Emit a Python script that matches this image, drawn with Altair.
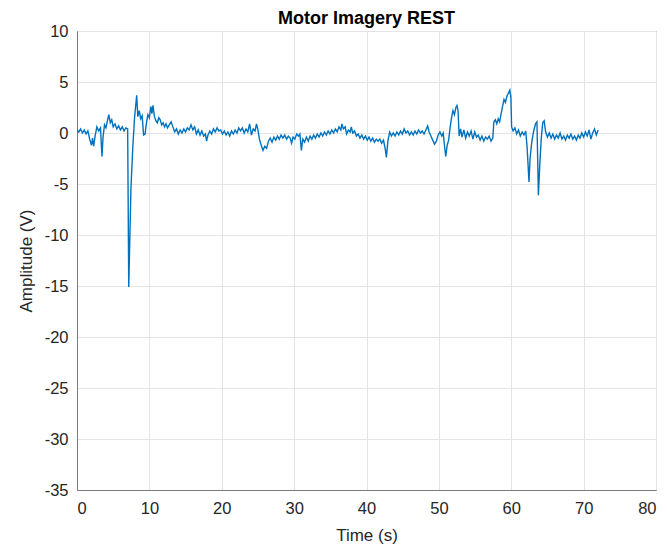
import altair as alt
import pandas as pd

# Recorded EEG channel during the "rest" motor-imagery trial (time in s, amplitude in V)
time_s = [
    0.0, 0.25, 0.5, 0.75, 1.0, 1.25, 1.5, 1.75, 2.0, 2.15, 2.3, 2.5, 2.75, 3.0, 3.25, 3.45,
    3.6, 3.8, 4.0, 4.2, 4.4, 4.6, 4.8, 5.0, 5.25, 5.5, 5.75, 6.0, 6.25, 6.5, 6.75, 7.0,
    7.15, 7.45, 7.7, 7.95, 8.25, 8.4, 8.6, 8.8, 9.0, 9.2, 9.4, 9.6, 9.8, 10.0, 10.2, 10.35,
    10.5, 10.7, 10.9, 11.1, 11.3, 11.5, 11.7, 11.9, 12.1, 12.3, 12.5, 12.75, 13.0, 13.25,
    13.5, 13.75, 14.0, 14.25, 14.5, 14.75, 15.0, 15.25, 15.5, 15.75, 16.0, 16.25, 16.5,
    16.75, 17.0, 17.25, 17.5, 17.75, 17.9, 18.1, 18.35, 18.6, 18.85, 19.1, 19.35, 19.6,
    19.85, 20.1, 20.35, 20.6, 20.85, 21.1, 21.35, 21.6, 21.85, 22.1, 22.35, 22.6, 22.85,
    23.1, 23.35, 23.6, 23.85, 24.1, 24.35, 24.6, 24.8, 25.0, 25.2, 25.45, 25.7, 25.95,
    26.2, 26.45, 26.7, 26.95, 27.2, 27.45, 27.7, 27.95, 28.2, 28.45, 28.7, 28.95, 29.2,
    29.45, 29.65, 29.85, 30.1, 30.35, 30.6, 30.8, 31.0, 31.2, 31.45, 31.7, 31.95, 32.2,
    32.45, 32.7, 32.95, 33.2, 33.45, 33.7, 33.95, 34.2, 34.45, 34.7, 34.95, 35.2, 35.45,
    35.7, 35.95, 36.2, 36.45, 36.6, 36.8, 37.05, 37.25, 37.5, 37.75, 37.9, 38.1, 38.35,
    38.6, 38.85, 39.1, 39.35, 39.6, 39.85, 40.1, 40.35, 40.6, 40.85, 41.1, 41.35, 41.6,
    41.85, 42.1, 42.35, 42.6, 42.75, 42.95, 43.2, 43.45, 43.7, 43.95, 44.2, 44.45, 44.7,
    44.95, 45.2, 45.45, 45.7, 45.95, 46.2, 46.45, 46.7, 46.95, 47.2, 47.45, 47.7, 47.95,
    48.2, 48.45, 48.65, 48.9, 49.15, 49.4, 49.65, 49.9, 50.15, 50.4, 50.6, 50.8, 50.95,
    51.15, 51.35, 51.55, 51.75, 51.95, 52.15, 52.35, 52.5, 52.65, 52.8, 53.0, 53.2, 53.45,
    53.7, 53.95, 54.2, 54.45, 54.7, 54.95, 55.2, 55.45, 55.7, 55.95, 56.2, 56.45, 56.7,
    56.95, 57.2, 57.45, 57.6, 57.8, 58.0, 58.2, 58.4, 58.6, 58.8, 59.0, 59.2, 59.4, 59.6,
    59.8, 59.95, 60.05, 60.25, 60.5, 60.75, 61.0, 61.25, 61.5, 61.75, 62.0, 62.2, 62.45,
    62.6, 62.85, 63.1, 63.35, 63.55, 63.75, 63.95, 64.15, 64.35, 64.55, 64.75, 65.0, 65.25,
    65.5, 65.75, 66.0, 66.25, 66.5, 66.75, 67.0, 67.25, 67.5, 67.75, 68.0, 68.25, 68.5,
    68.75, 69.0, 69.25, 69.5, 69.75, 70.0, 70.25, 70.5, 70.75, 71.0, 71.25, 71.5, 71.75,
    72.0,
]

amplitude_v = [
    0.3, 0.1, 0.4, 0.0, 0.3, -0.1, 0.2, -0.6, -1.2, -0.5, -1.3, -0.3, 0.6, 0.2, 0.5, -2.3,
    -0.4, 0.8, 0.5, 1.2, 1.8, 1.0, 1.3, 0.6, 0.9, 0.4, 0.7, 0.3, 0.6, 0.2, 0.5, 0.4,
    -15.1, -5.5, -1.5, 1.5, 3.7, 1.6, 2.2, 1.4, 1.7, -0.2, -0.1, 1.0, 1.8, 1.5, 2.6, 1.9,
    2.7, 1.6, 1.2, 1.0, 1.5, 1.3, 0.8, 1.0, 0.6, 0.9, 0.5, 0.8, 1.1, 0.6,
    0.1, 0.4, -0.1, 0.3, 0.0, 0.4, 0.1, 0.5, 0.3, 0.8, 0.3, 0.6, -0.1,
    0.3, -0.2, 0.2, -0.3, -0.1, -0.8, -0.2, 0.2, -0.1, 0.4, 0.1, 0.5, 0.2,
    0.3, -0.1, 0.2, -0.2, 0.1, -0.3, 0.2, -0.1, 0.3, 0.0, 0.5, 0.2, 0.5,
    0.0, 0.4, 0.1, 0.9, -0.2, 0.4, 0.2, 0.9, 0.3, -0.6, -1.2, -1.7, -1.3,
    -1.5, -0.8, -0.5, -0.9, -0.4, -0.7, -0.3, -0.6, -0.2, -0.5, -0.2, -0.6, -0.3,
    -0.5, -1.0, -0.4, -0.6, -0.1, -0.3, -0.1, -1.7, -0.6, -0.9, -0.4, -0.8, -0.3,
    -0.6, -0.2, -0.5, -0.1, -0.4, 0.0, -0.3, 0.1, -0.2, 0.2, -0.1, 0.3, 0.0,
    0.4, 0.1, 0.6, 0.3, 0.9, 0.4, 0.6, -0.1, 0.3, 0.1, 0.6, 0.0, 0.2,
    -0.3, -0.1, -0.5, -0.2, -0.6, -0.3, -0.7, -0.4, -0.8, -0.5, -0.9, -0.6, -0.8,
    -0.6, -1.0, -0.7, -1.6, -2.4, -0.8, 0.1, -0.3, 0.0, -0.3, 0.1, -0.2, 0.2,
    -0.1, 0.4, 0.0, 0.2, -0.2, 0.1, -0.2, 0.2, -0.1, 0.3, 0.0, 0.2, -0.1,
    0.3, 0.7, 0.1, -0.3, -0.7, -1.1, -0.8, -0.2, 0.1, -0.3, 0.0, -1.4, -2.3,
    -1.2, -0.7, 0.5, 1.5, 2.2, 1.8, 2.5, 2.7, 2.2, -0.3, 0.4, -0.4, 0.3,
    -0.5, 0.1, -0.3, 0.2, -0.6, 0.1, -0.4, -0.2, -0.7, -0.3, -0.8, -0.4, -0.6,
    -0.3, -0.8, -0.5, 1.1, 1.3, 0.9, 1.4, 1.1, 1.9, 2.6, 3.3, 3.0, 3.6, 3.9,
    4.2, 3.5, 0.6, 0.2, 0.5, -0.1, 0.3, -0.3, 0.1, -0.2, 0.2, -1.5, -4.8,
    -2.5, -0.8, 0.2, 0.9, 1.1, -6.1, -3.0, -0.5, 1.0, 1.2, 0.1, -0.4, 0.0,
    -0.5, -0.1, -0.6, -0.2, -0.5, 0.0, -0.6, -0.3, -0.7, -0.2, -0.5, -0.1, -0.6,
    -0.3, -0.7, -0.2, -0.5, 0.0, -0.4, 0.1, -0.3, 0.3, -0.6, 0.0, 0.4, -0.2,
    0.3,
]

x_ticks = [0, 10, 20, 30, 40, 50, 60, 70, 80]
y_ticks = [10, 5, 0, -5, -10, -15, -20, -25, -30, -35]

signal = pd.DataFrame({"t": time_s, "v": amplitude_v})

FONT = "Liberation Sans"
TEXT = "#262626"
AXIS = "#7a7a7a"
GRID = "#e4e4e4"

# plain hyphen-minus for negative tick labels
plain_label = "toString(datum.value)"

chart = (
    alt.Chart(signal)
    .mark_line(color="#0072BD", strokeWidth=1.4, clip=True)
    .encode(
        x=alt.X(
            "t:Q",
            scale=alt.Scale(domain=[0, 80], nice=False, zero=False),
            axis=alt.Axis(values=x_ticks, title="Time (s)", labelPadding=10,
                          titlePadding=11, labelExpr=plain_label),
        ),
        y=alt.Y(
            "v:Q",
            scale=alt.Scale(domain=[-35, 10], nice=False, zero=False),
            axis=alt.Axis(values=y_ticks, title="Amplitude (V)", labelPadding=9,
                          titlePadding=9, labelExpr=plain_label),
        ),
    )
    .properties(
        width=579,
        height=459,
        title=alt.TitleParams("Motor Imagery REST", fontSize=18, fontWeight="bold",
                              font=FONT, color="#000000", offset=6, dy=11),
        autosize=alt.AutoSizeParams(type="none"),
        padding={"left": 77, "top": 31, "right": 11, "bottom": 58},
    )
    .configure(background="white")
    .configure_view(stroke=AXIS, strokeWidth=1)
    .configure_axis(
        labelFont=FONT,
        titleFont=FONT,
        labelFontSize=16.5,
        titleFontSize=17,
        titleFontWeight="normal",
        labelColor=TEXT,
        titleColor=TEXT,
        domainColor=AXIS,
        domainWidth=1,
        ticks=False,
        tickSize=0,
        gridColor=GRID,
        gridWidth=1,
    )
)

chart.save("out.html", embed_options={"renderer": "svg", "actions": False})
